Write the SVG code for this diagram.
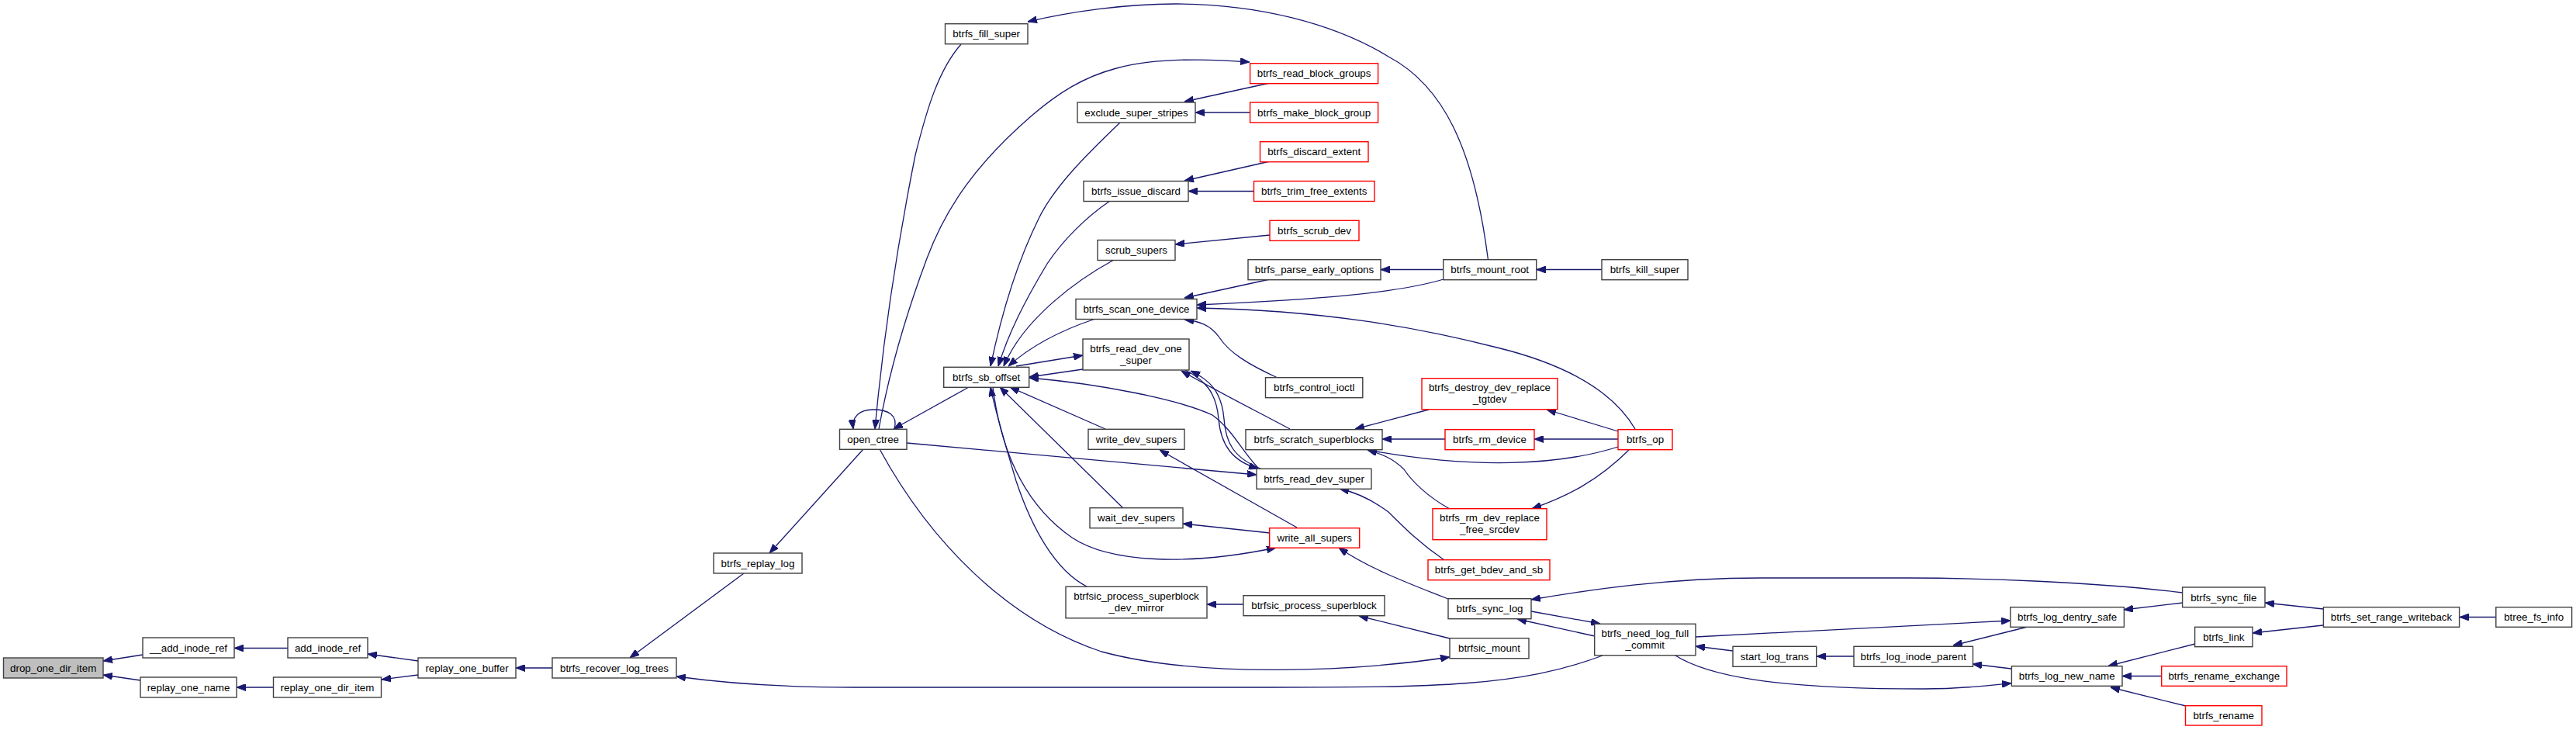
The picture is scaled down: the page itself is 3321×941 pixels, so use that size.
<svg xmlns="http://www.w3.org/2000/svg" width="3321" height="941" viewBox="0 0 3321 941">
<defs>
<marker id="arr" viewBox="0 0 12 9" refX="12" refY="4.5" markerWidth="12" markerHeight="9" markerUnits="userSpaceOnUse" orient="auto">
<path d="M0,0 L12,4.5 L0,9 z" fill="#191970" stroke="#191970" stroke-width="1"/>
</marker>
<style>
.e{fill:none;stroke:#191970;stroke-width:1.3;marker-end:url(#arr)}
.n rect{fill:#ffffff;stroke:#404040;stroke-width:1.4}
.r rect{fill:#ffffff;stroke:#ff0000;stroke-width:1.4}
.f rect{fill:#bfbfbf;stroke:#404040;stroke-width:1.4}
text{font-family:"Liberation Sans",Arial,Helvetica,sans-serif;font-size:13.33px;fill:#000;text-anchor:middle}
</style>
</defs>
<rect width="3321" height="941" fill="#ffffff"/>
<g id="edges">
<path class="e" d="M184,844 L133,852"/>
<path class="e" d="M181,877 L133,870"/>
<path class="e" d="M371,835.5 L302,835.5"/>
<path class="e" d="M352.5,886 L305,886"/>
<path class="e" d="M539,852 L474,843"/>
<path class="e" d="M539,870 L492,876"/>
<path class="e" d="M712,861 L665,861"/>
<path class="e" d="M959,739 L812,848"/>
<path class="e" d="M2066,845 C1960,885 1850,886 1640,886 L1100,886 C1000,886 930,880 872,872"/>
<path class="e" d="M1113,579 L992,713"/>
<path class="e" d="M1134,579 C1200,700 1300,800 1420,840 C1550,875 1750,865 1869,847"/>
<path class="e" d="M1153,553 C1158,535 1145,528 1126,528 C1108,528 1098,537 1100,553"/>
<path class="e" d="M1239,57 C1210,90 1195,140 1180,200 C1160,300 1140,420 1128,553"/>
<path class="e" d="M1133,553 C1148,470 1170,400 1195,333 S1260,210 1329,150 S1460,68 1611,80"/>
<path class="e" d="M1918.5,335 C1900,190 1860,110 1790,73 C1720,30 1620,5 1516,5 C1450,5 1380,15 1325,28"/>
<path class="e" d="M1637,107 L1527,131"/>
<path class="e" d="M1611.6,145 L1541,145"/>
<path class="e" d="M1444,158 C1400,200 1360,240 1340,280 C1310,340 1290,410 1277,472"/>
<path class="e" d="M1637,208 L1527,233"/>
<path class="e" d="M1616.5,246.5 L1532,246.5"/>
<path class="e" d="M1431,259 C1400,280 1370,310 1350,340 C1320,390 1300,430 1287,472"/>
<path class="e" d="M1637,303 L1515,315"/>
<path class="e" d="M1436,335 C1390,360 1320,410 1294,472"/>
<path class="e" d="M1637,360 L1527,384"/>
<path class="e" d="M1861,360 C1800,378 1700,386 1543,393"/>
<path class="e" d="M2108,553 C2080,505 2020,470 1930,448 C1820,420 1700,400 1543,397"/>
<path class="e" d="M1412,411 C1370,425 1330,445 1300,472"/>
<path class="e" d="M1310,472 L1396,458"/>
<path class="e" d="M1396,476 L1327,486"/>
<path class="e" d="M1621,602 C1600,580 1590,555 1563,535 C1520,515 1420,495 1327,487"/>
<path class="e" d="M1647,487 C1610,470 1585,455 1572,435 C1560,418 1545,414 1527,412"/>
<path class="e" d="M1663,553 C1620,530 1570,505 1523,478"/>
<path class="e" d="M1625,604 C1590,590 1580,570 1578,540 C1575,505 1560,490 1535,478"/>
<path class="e" d="M1528,477 C1553,490 1568,505 1571,540 C1574,575 1590,595 1622,604"/>
<path class="e" d="M1169,571 L1620,612"/>
<path class="e" d="M1425,553 L1302,499"/>
<path class="e" d="M1448,655 L1289,499"/>
<path class="e" d="M1401,756 C1360,735 1330,680 1310,620 C1295,570 1283,530 1277,499"/>
<path class="e" d="M1280,499 C1290,580 1320,650 1382,693 C1430,725 1530,730 1645,706"/>
<path class="e" d="M1637,687 L1525,675"/>
<path class="e" d="M1672,680 L1495,580"/>
<path class="e" d="M1867,772 C1810,750 1760,730 1726,706"/>
<path class="e" d="M1862,722 C1830,700 1810,680 1790,660 C1770,645 1750,635 1727,630"/>
<path class="e" d="M1842,528 L1747,553"/>
<path class="e" d="M1863,566 L1782,566"/>
<path class="e" d="M2086,576 C2010,600 1900,605 1763,580"/>
<path class="e" d="M1869,656 C1840,640 1820,620 1810,605 C1795,590 1780,585 1763,580"/>
<path class="e" d="M2086,556 L1994,528"/>
<path class="e" d="M2086,566 L1978,566"/>
<path class="e" d="M2101,579 C2060,620 2020,640 1975,655.7"/>
<path class="e" d="M1603,779 L1556,779"/>
<path class="e" d="M1869,823 L1752,794"/>
<path class="e" d="M1974,788 L2063,804"/>
<path class="e" d="M2056,820 L1956,798"/>
<path class="e" d="M2814,764 C2700,750 2550,745 2460,745 L2270,745 C2150,745 2050,760 1974,773"/>
<path class="e" d="M2186,821 L2592,800"/>
<path class="e" d="M2234,839 L2186,833"/>
<path class="e" d="M2390,846 L2342,846"/>
<path class="e" d="M2160,845 C2200,870 2280,888 2480,888 C2530,888 2560,884 2593,880.7"/>
<path class="e" d="M2614,808 L2518,832"/>
<path class="e" d="M2593,862 L2543,856"/>
<path class="e" d="M2814,777 L2738,786"/>
<path class="e" d="M2995,785 L2920,777"/>
<path class="e" d="M2995,806 L2904,816"/>
<path class="e" d="M3218,795.5 L3171,795.5"/>
<path class="e" d="M2830,830 L2718,858.5"/>
<path class="e" d="M2787,871.5 L2736,871.5"/>
<path class="e" d="M2818,910 L2721,886"/>
<path class="e" d="M2065,347.5 L1981,347.5"/>
<path class="e" d="M1861,347.5 L1780,347.5"/>
<path class="e" d="M1249,499 L1152,553"/>
</g>
<g id="drop_one_dir_item" class="f"><rect x="4.5" y="848" width="128.5" height="26"/><text x="68.7" y="865.7">drop_one_dir_item</text></g>
<g id="__add_inode_ref" class="n"><rect x="184" y="822" width="118" height="26"/><text x="243" y="839.7">__add_inode_ref</text></g>
<g id="add_inode_ref" class="n"><rect x="371" y="822" width="103" height="26"/><text x="422.5" y="839.7">add_inode_ref</text></g>
<g id="replay_one_name" class="n"><rect x="181" y="873" width="124" height="26"/><text x="243" y="890.7">replay_one_name</text></g>
<g id="replay_one_dir_item" class="n"><rect x="352.5" y="873" width="139" height="26"/><text x="422" y="890.7">replay_one_dir_item</text></g>
<g id="replay_one_buffer" class="n"><rect x="539" y="848" width="126" height="26"/><text x="602" y="865.7">replay_one_buffer</text></g>
<g id="btrfs_recover_log_trees" class="n"><rect x="712" y="848" width="160" height="26"/><text x="792" y="865.7">btrfs_recover_log_trees</text></g>
<g id="btrfs_replay_log" class="n"><rect x="920" y="713" width="114" height="26"/><text x="977" y="730.7">btrfs_replay_log</text></g>
<g id="open_ctree" class="n"><rect x="1082.5" y="553.3" width="86.5" height="26"/><text x="1125.7" y="571">open_ctree</text></g>
<g id="btrfs_fill_super" class="n"><rect x="1218.5" y="30.7" width="106.5" height="26"/><text x="1271.7" y="48.4">btrfs_fill_super</text></g>
<g id="btrfs_sb_offset" class="n"><rect x="1216.7" y="473.3" width="110" height="26"/><text x="1271.7" y="491">btrfs_sb_offset</text></g>
<g id="exclude_super_stripes" class="n"><rect x="1389" y="132" width="152" height="26"/><text x="1465" y="149.7">exclude_super_stripes</text></g>
<g id="btrfs_issue_discard" class="n"><rect x="1397" y="233.5" width="135" height="26"/><text x="1464.5" y="251.2">btrfs_issue_discard</text></g>
<g id="scrub_supers" class="n"><rect x="1415" y="309.5" width="100" height="26"/><text x="1465" y="327.2">scrub_supers</text></g>
<g id="btrfs_scan_one_device" class="n"><rect x="1387" y="385.5" width="156" height="26"/><text x="1465" y="403.2">btrfs_scan_one_device</text></g>
<g id="btrfs_read_dev_one_super" class="n"><rect x="1396" y="437" width="137" height="40"/><text x="1464.5" y="453.7">btrfs_read_dev_one</text><text x="1464.5" y="468.7">_super</text></g>
<g id="write_dev_supers" class="n"><rect x="1403" y="553.3" width="124" height="26"/><text x="1465" y="571">write_dev_supers</text></g>
<g id="wait_dev_supers" class="n"><rect x="1405" y="654.7" width="120" height="26"/><text x="1465" y="672.4">wait_dev_supers</text></g>
<g id="btrfsic_process_superblock_dev_mirror" class="n"><rect x="1374" y="756.3" width="182" height="40.5"/><text x="1465" y="773.2">btrfsic_process_superblock</text><text x="1465" y="788.2">_dev_mirror</text></g>
<g id="btrfs_read_block_groups" class="r"><rect x="1611.6" y="81.7" width="165" height="26"/><text x="1694.1" y="99.4">btrfs_read_block_groups</text></g>
<g id="btrfs_make_block_group" class="r"><rect x="1611.6" y="132" width="165" height="26"/><text x="1694.1" y="149.7">btrfs_make_block_group</text></g>
<g id="btrfs_discard_extent" class="r"><rect x="1624.5" y="182.7" width="139.5" height="26"/><text x="1694.2" y="200.4">btrfs_discard_extent</text></g>
<g id="btrfs_trim_free_extents" class="r"><rect x="1616.5" y="233.5" width="155.5" height="26"/><text x="1694.2" y="251.2">btrfs_trim_free_extents</text></g>
<g id="btrfs_scrub_dev" class="r"><rect x="1637" y="284.3" width="115" height="26"/><text x="1694.5" y="302">btrfs_scrub_dev</text></g>
<g id="btrfs_parse_early_options" class="n"><rect x="1609" y="334.7" width="171" height="26"/><text x="1694.5" y="352.4">btrfs_parse_early_options</text></g>
<g id="btrfs_mount_root" class="n"><rect x="1860.7" y="334.7" width="120" height="26"/><text x="1920.7" y="352.4">btrfs_mount_root</text></g>
<g id="btrfs_kill_super" class="n"><rect x="2065" y="334.7" width="111" height="26"/><text x="2120.5" y="352.4">btrfs_kill_super</text></g>
<g id="btrfs_control_ioctl" class="n"><rect x="1631.5" y="486.7" width="125.3" height="26"/><text x="1694.2" y="504.4">btrfs_control_ioctl</text></g>
<g id="btrfs_destroy_dev_replace_tgtdev" class="r"><rect x="1833" y="487.7" width="175" height="40"/><text x="1920.5" y="504.4">btrfs_destroy_dev_replace</text><text x="1920.5" y="519.4">_tgtdev</text></g>
<g id="btrfs_scratch_superblocks" class="n"><rect x="1606" y="553.7" width="176" height="26"/><text x="1694" y="571.4">btrfs_scratch_superblocks</text></g>
<g id="btrfs_rm_device" class="r"><rect x="1863" y="553.7" width="115" height="26"/><text x="1920.5" y="571.4">btrfs_rm_device</text></g>
<g id="btrfs_op" class="r"><rect x="2086" y="553.7" width="70" height="26"/><text x="2121" y="571.4">btrfs_op</text></g>
<g id="btrfs_read_dev_super" class="n"><rect x="1620" y="604.3" width="148" height="26"/><text x="1694" y="622">btrfs_read_dev_super</text></g>
<g id="btrfs_rm_dev_replace_free_srcdev" class="r"><rect x="1847" y="655.7" width="147" height="40"/><text x="1920.5" y="672.4">btrfs_rm_dev_replace</text><text x="1920.5" y="687.4">_free_srcdev</text></g>
<g id="write_all_supers" class="r"><rect x="1636.7" y="680.7" width="116" height="25.5"/><text x="1694.7" y="698.2">write_all_supers</text></g>
<g id="btrfs_get_bdev_and_sb" class="r"><rect x="1841" y="721.7" width="157" height="26"/><text x="1919.5" y="739.4">btrfs_get_bdev_and_sb</text></g>
<g id="btrfsic_process_superblock" class="n"><rect x="1603" y="767.7" width="182" height="26"/><text x="1694" y="785.4">btrfsic_process_superblock</text></g>
<g id="btrfs_sync_log" class="n"><rect x="1867" y="771.7" width="107" height="26"/><text x="1920.5" y="789.4">btrfs_sync_log</text></g>
<g id="btrfsic_mount" class="n"><rect x="1869" y="822.7" width="102" height="26"/><text x="1920" y="840.4">btrfsic_mount</text></g>
<g id="btrfs_need_log_full_commit" class="n"><rect x="2055.7" y="804.3" width="130.3" height="40.5"/><text x="2120.8" y="821.2">btrfs_need_log_full</text><text x="2120.8" y="836.2">_commit</text></g>
<g id="start_log_trans" class="n"><rect x="2234" y="833.3" width="107.7" height="26"/><text x="2287.8" y="851">start_log_trans</text></g>
<g id="btrfs_log_inode_parent" class="n"><rect x="2390" y="833.3" width="153.5" height="26"/><text x="2466.7" y="851">btrfs_log_inode_parent</text></g>
<g id="btrfs_log_dentry_safe" class="n"><rect x="2591.8" y="782.7" width="146.6" height="25.6"/><text x="2665.1" y="800.2">btrfs_log_dentry_safe</text></g>
<g id="btrfs_sync_file" class="n"><rect x="2813.6" y="757" width="106.4" height="25.7"/><text x="2866.8" y="774.6">btrfs_sync_file</text></g>
<g id="btrfs_set_range_writeback" class="n"><rect x="2995.4" y="782.7" width="175.2" height="25.6"/><text x="3083" y="800.2">btrfs_set_range_writeback</text></g>
<g id="btree_fs_info" class="n"><rect x="3217.8" y="782.7" width="97.8" height="25.6"/><text x="3266.7" y="800.2">btree_fs_info</text></g>
<g id="btrfs_link" class="n"><rect x="2829.6" y="808.3" width="74.4" height="25.4"/><text x="2866.8" y="825.7">btrfs_link</text></g>
<g id="btrfs_log_new_name" class="n"><rect x="2593.4" y="858.7" width="142.6" height="25.6"/><text x="2664.7" y="876.2">btrfs_log_new_name</text></g>
<g id="btrfs_rename_exchange" class="r"><rect x="2786.7" y="858.7" width="161.3" height="25.6"/><text x="2867.3" y="876.2">btrfs_rename_exchange</text></g>
<g id="btrfs_rename" class="r"><rect x="2817.5" y="909.7" width="98.5" height="25.3"/><text x="2866.7" y="927">btrfs_rename</text></g>
</svg>
